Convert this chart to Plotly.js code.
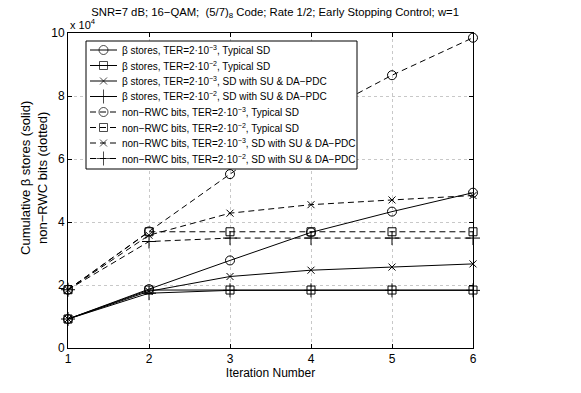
<!DOCTYPE html>
<html>
<head>
<meta charset="utf-8">
<script src="https://cdn.plot.ly/plotly-3.0.1.min.js"></script>
<style>
  html, body { margin: 0; padding: 0; background: #fff; }
  #chart { width: 581px; height: 393px; }
</style>
</head>
<body>
<div id="chart"></div>
<script>
// iteration axis
const iterations = [1, 2, 3, 4, 5, 6];

// values in units of 10^4
const betaTypicalTer3 = [0.92, 1.87, 2.78, 3.67, 4.33, 4.93];
const betaTypicalTer2 = [0.92, 1.84, 1.84, 1.84, 1.84, 1.84];
const betaSuTer3      = [0.92, 1.80, 2.27, 2.47, 2.57, 2.67];
const betaSuTer2      = [0.92, 1.74, 1.83, 1.83, 1.83, 1.83];
const rwcTypicalTer3  = [1.85, 3.70, 5.52, 7.30, 8.66, 9.85];
const rwcTypicalTer2  = [1.85, 3.69, 3.69, 3.69, 3.69, 3.69];
const rwcSuTer3       = [1.85, 3.58, 4.28, 4.55, 4.70, 4.84];
const rwcSuTer2       = [1.85, 3.38, 3.49, 3.49, 3.49, 3.49];

const yTicks = [0, 2, 4, 6, 8, 10];

const seriesNames = [
    'β stores, TER=2·10<sup>−3</sup>, Typical SD',
    'β stores, TER=2·10<sup>−2</sup>, Typical SD',
    'β stores, TER=2·10<sup>−3</sup>, SD with SU & DA−PDC',
    'β stores, TER=2·10<sup>−2</sup>, SD with SU & DA−PDC',
    'non−RWC bits, TER=2·10<sup>−3</sup>, Typical SD',
    'non−RWC bits, TER=2·10<sup>−2</sup>, Typical SD',
    'non−RWC bits, TER=2·10<sup>−3</sup>, SD with SU & DA−PDC',
    'non−RWC bits, TER=2·10<sup>−2</sup>, SD with SU & DA−PDC'
];
const seriesValues = [betaTypicalTer3, betaTypicalTer2, betaSuTer3, betaSuTer2,
                      rwcTypicalTer3, rwcTypicalTer2, rwcSuTer3, rwcSuTer2];

const symbols = ['circle-open', 'square-open', 'x-thin-open', 'cross-thin-open'];
const sizes = [9, 8, 7, 10];
const DASH = '6px,4px';

// plot box in pixels
const M = { l: 68, r: 108, t: 33, b: 45 };
const W = 581, H = 393;
const plotW = W - M.l - M.r, plotH = H - M.t - M.b;
const px = function (x) { return (x - M.l) / plotW; };
const py = function (y) { return (M.t + plotH - y) / plotH; };

const traces = seriesValues.map(function (vals, i) {
    const k = i % 4;
    return {
        x: iterations, y: vals, name: seriesNames[i],
        type: 'scatter', mode: 'lines+markers', cliponaxis: false,
        line: { color: '#000', width: 1, dash: i < 4 ? 'solid' : DASH },
        marker: { symbol: symbols[k], size: sizes[k], color: '#000',
                  line: { color: '#000', width: 1 } }
    };
});

// hand-made legend (Plotly's rows are taller than the original's)
const leg = { left: 86, right: 357, top: 41, bottom: 169, row0: 50, step: 15.5,
              lineX0: 90, lineX1: 117, textX: 120 };
traces.push({
    x: [px(leg.left), px(leg.right), px(leg.right), px(leg.left), px(leg.left)],
    y: [py(leg.bottom), py(leg.bottom), py(leg.top), py(leg.top), py(leg.bottom)],
    xaxis: 'x2', yaxis: 'y2', type: 'scatter', mode: 'lines', fill: 'toself',
    fillcolor: '#fff', line: { color: '#000', width: 1 }, hoverinfo: 'skip'
});
const annotations = [];
seriesNames.forEach(function (name, i) {
    const k = i % 4;
    const rowY = py(leg.row0 + i * leg.step);
    traces.push({
        x: [px(leg.lineX0), px((leg.lineX0 + leg.lineX1) / 2), px(leg.lineX1)],
        y: [rowY, rowY, rowY],
        xaxis: 'x2', yaxis: 'y2', type: 'scatter', mode: 'lines+markers', cliponaxis: false,
        line: { color: '#000', width: 1, dash: i < 4 ? 'solid' : DASH },
        marker: { symbol: symbols[k], size: [0, sizes[k], 0], color: '#000',
                  line: { color: '#000', width: 1 } }
    });
    annotations.push({
        text: name, xref: 'paper', yref: 'paper', x: px(leg.textX), y: rowY,
        xanchor: 'left', yanchor: 'middle', showarrow: false,
        font: { size: 10, color: '#000' }
    });
});

annotations.push({
    text: 'x 10<sup>4</sup>', xref: 'paper', yref: 'paper',
    x: 0, y: 1, xanchor: 'left', yanchor: 'bottom', showarrow: false,
    font: { size: 11, color: '#000' }
}, {
    text: 'Cumulative β stores (solid)<br>non−RWC bits (dotted)',
    xref: 'paper', yref: 'paper', x: px(34), y: 0.54,
    xanchor: 'center', yanchor: 'middle', textangle: -90, showarrow: false,
    font: { size: 13, color: '#000' }
});

const axisCommon = {
    showline: true, linecolor: '#000', linewidth: 1, mirror: 'ticks',
    ticks: 'inside', ticklen: 4, tickcolor: '#000',
    showgrid: true, gridcolor: '#c8c8c8', griddash: 'dot', gridwidth: 1,
    zeroline: false, tickfont: { size: 12, color: '#000' }
};
const hiddenAxis = { range: [0, 1], visible: false, showgrid: false, zeroline: false, fixedrange: true };

const layout = {
    width: W, height: H,
    margin: M,
    paper_bgcolor: '#fff', plot_bgcolor: '#fff',
    font: { family: 'Liberation Sans, Arial, sans-serif', color: '#000', size: 12 },
    showlegend: false,
    title: {
        text: 'SNR=7 dB; 16−QAM;  (5/7)<sub>8</sub> Code; Rate 1/2; Early Stopping Control; w=1',
        x: 0.4735, xanchor: 'center', y: 0.97, yanchor: 'middle',
        font: { size: 11.3, color: '#000' }
    },
    xaxis: Object.assign({}, axisCommon, {
        range: [1, 6], tickvals: iterations,
        title: { text: 'Iteration Number', standoff: 3, font: { size: 12 } }
    }),
    yaxis: Object.assign({}, axisCommon, {
        range: [0, 10], tickvals: yTicks
    }),
    xaxis2: Object.assign({ overlaying: 'x', anchor: 'y2' }, hiddenAxis),
    yaxis2: Object.assign({ overlaying: 'y', anchor: 'x2' }, hiddenAxis),
    annotations: annotations
};

Plotly.newPlot('chart', traces, layout, { displayModeBar: false, staticPlot: true });
</script>
</body>
</html>
